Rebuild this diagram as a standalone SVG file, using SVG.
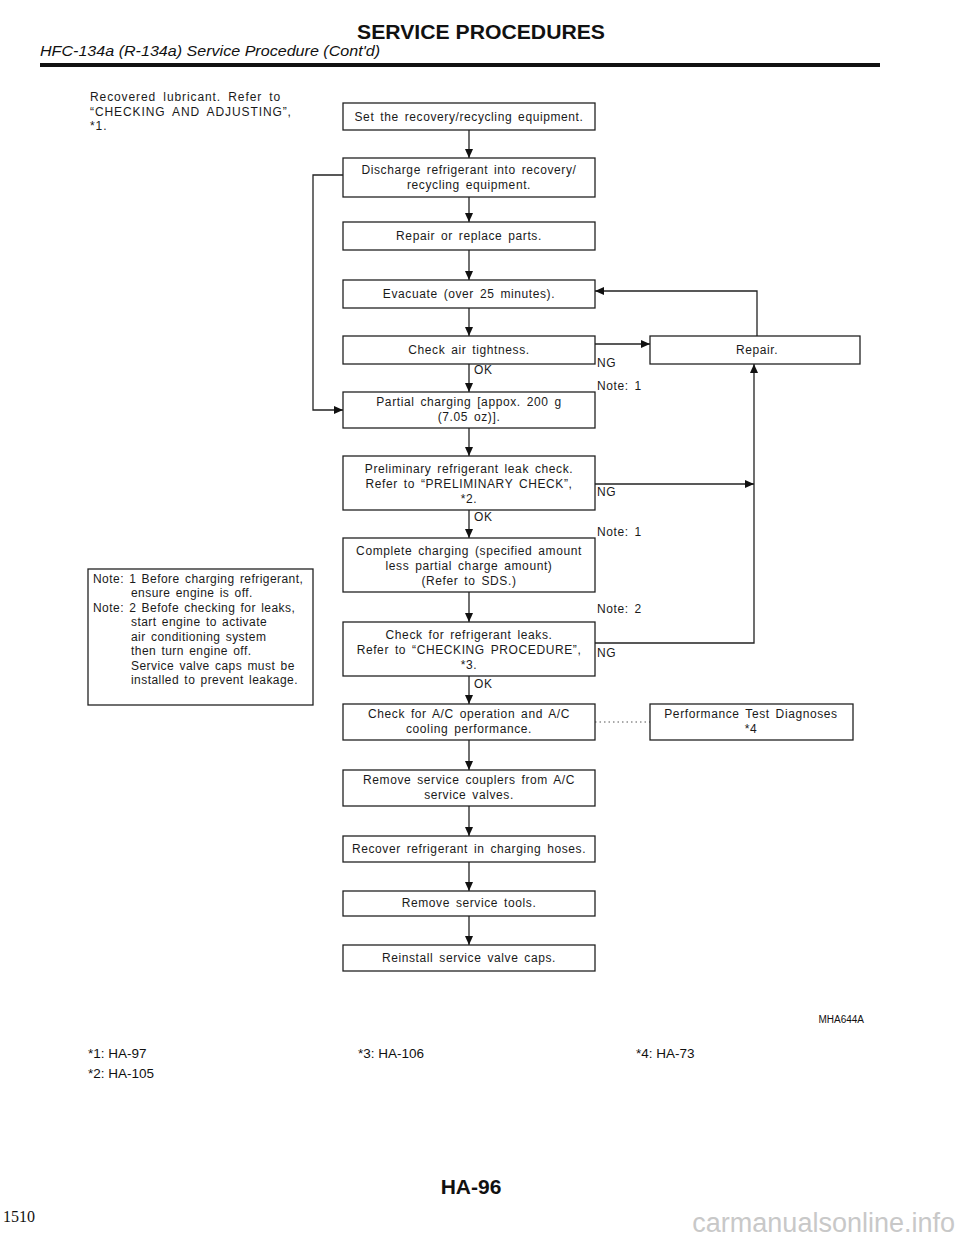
<svg xmlns="http://www.w3.org/2000/svg" width="960" height="1242" viewBox="0 0 960 1242">
<defs>
<marker id="ah" markerUnits="userSpaceOnUse" markerWidth="10" markerHeight="8" refX="9" refY="4" orient="auto">
<path d="M0,0 L9,4 L0,8 Z" fill="#111"/>
</marker>
<style>
.bx{fill:#fff;stroke:#222;stroke-width:1.3}
.t{font-family:"Liberation Sans",Arial,sans-serif;font-size:12px;fill:#1a1a1a;letter-spacing:0.6px;word-spacing:2px}
.s{letter-spacing:0.9px;word-spacing:3px}
.nt{letter-spacing:0.45px;word-spacing:1.5px}
.c{text-anchor:middle}
.ln{fill:none;stroke:#222;stroke-width:1.3}
.ar{fill:none;stroke:#222;stroke-width:1.3;marker-end:url(#ah)}
.dot{fill:none;stroke:#555;stroke-width:1;stroke-dasharray:1.5 3}
.fn{font-family:"Liberation Sans",Arial,sans-serif;font-size:13.5px;fill:#111}
</style>
</defs>
<rect width="960" height="1242" fill="#fff"/>

<g id="header">
<text x="481" y="39" text-anchor="middle" font-family="Liberation Sans,Arial,sans-serif" font-weight="bold" font-size="21" textLength="248" lengthAdjust="spacingAndGlyphs" fill="#111">SERVICE PROCEDURES</text>
<text x="40" y="56" font-family="Liberation Sans,Arial,sans-serif" font-style="italic" font-size="14" textLength="340" lengthAdjust="spacingAndGlyphs" fill="#111">HFC-134a (R-134a) Service Procedure (Cont'd)</text>
<rect x="40" y="63" width="840" height="4" fill="#111"/>
</g>

<g id="side-note">
<text class="t s" x="90" y="101">Recovered lubricant. Refer to</text>
<text class="t s" x="90" y="116">“CHECKING AND ADJUSTING”,</text>
<text class="t s" x="90" y="130">*1.</text>
</g>

<g id="connectors">
<line class="ar" x1="469" y1="130" x2="469" y2="158"/>
<line class="ar" x1="469" y1="197" x2="469" y2="222"/>
<line class="ar" x1="469" y1="250" x2="469" y2="280"/>
<line class="ar" x1="469" y1="308" x2="469" y2="336"/>
<line class="ar" x1="469" y1="364" x2="469" y2="392"/>
<line class="ar" x1="469" y1="428" x2="469" y2="456"/>
<line class="ar" x1="469" y1="510" x2="469" y2="538"/>
<line class="ar" x1="469" y1="592" x2="469" y2="622"/>
<line class="ar" x1="469" y1="676" x2="469" y2="704"/>
<line class="ar" x1="469" y1="740" x2="469" y2="770"/>
<line class="ar" x1="469" y1="806" x2="469" y2="836"/>
<line class="ar" x1="469" y1="862" x2="469" y2="891"/>
<line class="ar" x1="469" y1="916" x2="469" y2="945"/>
<polyline class="ar" points="343,175 313,175 313,410 343,410"/>
<line class="ar" x1="595" y1="344" x2="650" y2="344"/>
<polyline class="ar" points="757,336 757,291 595,291"/>
<line class="ar" x1="595" y1="484" x2="754" y2="484"/>
<polyline class="ar" points="595,643 754,643 754,364"/>
<line class="dot" x1="595" y1="722" x2="650" y2="722"/>
<text class="t" x="474" y="374">OK</text>
<text class="t" x="474" y="521">OK</text>
<text class="t" x="474" y="688">OK</text>
<text class="t" x="597" y="367">NG</text>
<text class="t" x="597" y="390">Note: 1</text>
<text class="t" x="597" y="496">NG</text>
<text class="t" x="597" y="536">Note: 1</text>
<text class="t" x="597" y="613">Note: 2</text>
<text class="t" x="597" y="657">NG</text>
</g>

<g id="n1"><rect class="bx" x="343" y="103" width="252" height="27"/><text class="t c" x="469" y="121">Set the recovery/recycling equipment.</text></g>
<g id="n2"><rect class="bx" x="343" y="158" width="252" height="39"/><text class="t c" x="469" y="174">Discharge refrigerant into recovery/</text><text class="t c" x="469" y="189">recycling equipment.</text></g>
<g id="n3"><rect class="bx" x="343" y="222" width="252" height="28"/><text class="t c" x="469" y="240">Repair or replace parts.</text></g>
<g id="n4"><rect class="bx" x="343" y="280" width="252" height="28"/><text class="t c" x="469" y="298">Evacuate (over 25 minutes).</text></g>
<g id="n5"><rect class="bx" x="343" y="336" width="252" height="28"/><text class="t c" x="469" y="354">Check air tightness.</text></g>
<g id="n6"><rect class="bx" x="343" y="392" width="252" height="36"/><text class="t c" x="469" y="406">Partial charging [appox. 200 g</text><text class="t c" x="469" y="421">(7.05 oz)].</text></g>
<g id="n7"><rect class="bx" x="343" y="456" width="252" height="54"/><text class="t c" x="469" y="473">Preliminary refrigerant leak check.</text><text class="t c" x="469" y="488">Refer to “PRELIMINARY CHECK”,</text><text class="t c" x="469" y="503">*2.</text></g>
<g id="n8"><rect class="bx" x="343" y="538" width="252" height="54"/><text class="t c" x="469" y="555">Complete charging (specified amount</text><text class="t c" x="469" y="570">less partial charge amount)</text><text class="t c" x="469" y="585">(Refer to SDS.)</text></g>
<g id="n9"><rect class="bx" x="343" y="622" width="252" height="54"/><text class="t c" x="469" y="639">Check for refrigerant leaks.</text><text class="t c" x="469" y="654">Refer to “CHECKING PROCEDURE”,</text><text class="t c" x="469" y="669">*3.</text></g>
<g id="n10"><rect class="bx" x="343" y="704" width="252" height="36"/><text class="t c" x="469" y="718">Check for A/C operation and A/C</text><text class="t c" x="469" y="733">cooling performance.</text></g>
<g id="n11"><rect class="bx" x="343" y="770" width="252" height="36"/><text class="t c" x="469" y="784">Remove service couplers from A/C</text><text class="t c" x="469" y="799">service valves.</text></g>
<g id="n12"><rect class="bx" x="343" y="836" width="252" height="26"/><text class="t c" x="469" y="853">Recover refrigerant in charging hoses.</text></g>
<g id="n13"><rect class="bx" x="343" y="891" width="252" height="25"/><text class="t c" x="469" y="907">Remove service tools.</text></g>
<g id="n14"><rect class="bx" x="343" y="945" width="252" height="26"/><text class="t c" x="469" y="962">Reinstall service valve caps.</text></g>
<g id="repair"><rect class="bx" x="650" y="336" width="210" height="28"/><text class="t c" x="757" y="354">Repair.</text></g>
<g id="perf"><rect class="bx" x="650" y="704" width="203" height="36"/><text class="t c" x="751" y="718">Performance Test Diagnoses</text><text class="t c" x="751" y="733">*4</text></g>

<g id="notes">
<rect class="bx" x="88" y="569" width="225" height="136"/>
<text class="t nt" x="93" y="583">Note: 1 Before charging refrigerant,</text>
<text class="t nt" x="131" y="597">ensure engine is off.</text>
<text class="t nt" x="93" y="612">Note: 2 Befofe checking for leaks,</text>
<text class="t nt" x="131" y="626">start engine to activate</text>
<text class="t nt" x="131" y="641">air conditioning system</text>
<text class="t nt" x="131" y="655">then turn engine off.</text>
<text class="t nt" x="131" y="670">Service valve caps must be</text>
<text class="t nt" x="131" y="684">installed to prevent leakage.</text>
</g>

<g id="footer">
<text x="864" y="1023" text-anchor="end" font-family="Liberation Sans,Arial,sans-serif" font-size="10" fill="#111">MHA644A</text>
<text class="fn" x="88" y="1058">*1:  HA-97</text>
<text class="fn" x="88" y="1078">*2:  HA-105</text>
<text class="fn" x="358" y="1058">*3:  HA-106</text>
<text class="fn" x="636" y="1058">*4:  HA-73</text>
<text x="471" y="1194" text-anchor="middle" font-family="Liberation Sans,Arial,sans-serif" font-weight="bold" font-size="21" fill="#111">HA-96</text>
<text x="3" y="1222" font-family="Liberation Serif,Times New Roman,serif" font-size="16" fill="#111">1510</text>
<text x="955" y="1232" text-anchor="end" font-family="Liberation Sans,Arial,sans-serif" font-size="27" fill="#c8c8c8">carmanualsonline.info</text>
</g>
</svg>
